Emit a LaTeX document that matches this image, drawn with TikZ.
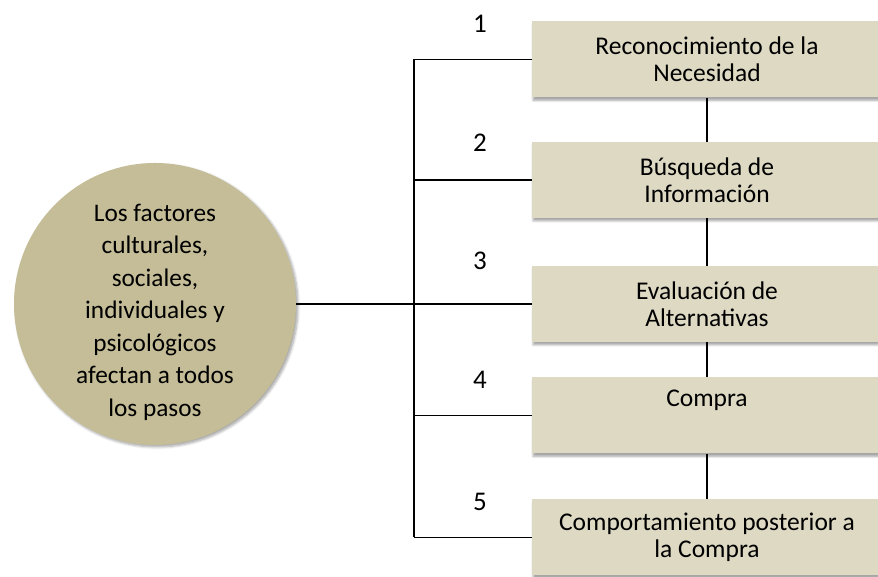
\documentclass[tikz,border=0pt]{standalone}
\usepackage{fontspec}
\setmainfont{Carlito}
\usetikzlibrary{shadows.blur}
\definecolor{boxfill}{HTML}{DDD9C3}
\definecolor{circfill}{HTML}{C4BD97}
\begin{document}
\begin{tikzpicture}[x=1pt,y=1pt,
  stepbox/.style={rectangle, fill=boxfill, minimum width=350pt, minimum height=76pt,
    align=center, font=\fontsize{25.5}{26.5}\selectfont, inner sep=0pt,
    blur shadow={shadow xshift=1pt, shadow yshift=-3pt, shadow blur steps=6, shadow opacity=35, shadow blur radius=2pt}},
  numlabel/.style={font=\fontsize{27}{28}\selectfont, inner sep=0pt},
  conn/.style={draw=black, line width=1.6pt}]
\useasboundingbox (0,0) rectangle (878,577);
\node[circle, fill=circfill, minimum size=282pt, inner sep=0pt,
  blur shadow={shadow xshift=2pt, shadow yshift=-2pt, shadow blur steps=6, shadow opacity=35, shadow blur radius=2.5pt}] (c) at (155,273) {};
\node[align=center, font=\fontsize{25.3}{32.5}\selectfont] (ct) at (155,265)
  {Los factores\\culturales,\\sociales,\\individuales y\\psicológicos\\afectan a todos\\los pasos};
\node[stepbox] (b1) at (707,517.5) {Reconocimiento de la\\Necesidad};
\node[stepbox] (b2) at (707,397) {Búsqueda de\\Información};
\node[stepbox] (b3) at (707,273) {Evaluación de\\Alternativas};
\node[stepbox] (b4) at (707,161.5) {Compra\\\strut};
\node[stepbox] (b5) at (707,39.5) {Comportamiento posterior a\\la Compra};
\node[numlabel] (n1) at (480,553) {1};
\node[numlabel] (n2) at (480,434) {2};
\node[numlabel] (n3) at (480,316) {3};
\node[numlabel] (n4) at (480,197) {4};
\node[numlabel] (n5) at (480,75) {5};
\coordinate (v) at (414,0);
\draw[conn] (c.east) -- (b3.west);
\draw[conn] (b1.west -| v) -- (b5.west -| v);
\draw[conn] (b1.west -| v) -- (b1.west);
\draw[conn] (b2.west -| v) -- (b2.west);
\draw[conn] (b4.west -| v) -- (b4.west);
\draw[conn] (b5.west -| v) -- (b5.west);
\draw[line width=1.3pt] (b1.south) -- (b2.north);
\draw[line width=1.3pt] (b2.south) -- (b3.north);
\draw[line width=1.3pt] (b3.south) -- (b4.north);
\draw[line width=1.3pt] (b4.south) -- (b5.north);
\end{tikzpicture}
\end{document}
